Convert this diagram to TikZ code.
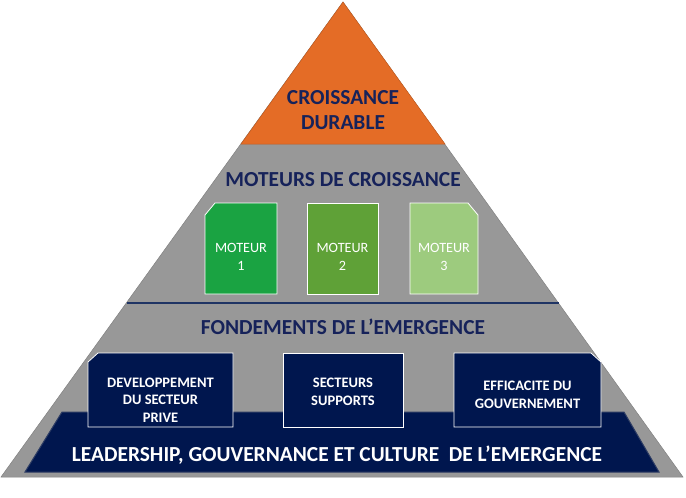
\documentclass[tikz,border=0pt]{standalone}
\usepackage{fontspec}
\setmainfont{Carlito}
\definecolor{orng}{RGB}{228,108,38}
\definecolor{pgray}{RGB}{152,152,152}
\definecolor{navy}{RGB}{0,22,78}
\definecolor{headnavy}{RGB}{22,34,90}
\definecolor{sepblue}{RGB}{31,52,100}
\definecolor{gA}{RGB}{26,163,66}
\definecolor{gB}{RGB}{95,161,55}
\definecolor{gC}{RGB}{157,203,126}
\begin{document}
\begin{tikzpicture}[x=1pt,y=-1pt,
  head/.style={font=\bfseries\fontsize{21.4}{25}\selectfont, text=headnavy, align=center, inner sep=0pt},
  bandtext/.style={font=\bfseries\fontsize{21.4}{24}\selectfont, text=white, inner sep=0pt},
  motortext/.style={font=\fontsize{14.2}{18}\selectfont, text=white, align=center, inner sep=0pt},
  fondtext/.style={font=\bfseries\fontsize{14.5}{17.5}\selectfont, text=white, align=center, inner sep=0pt},
  boxline/.style={draw=white, line width=0.8pt}]
\useasboundingbox (0,0) rectangle (686,498);
% pyramid
\fill[pgray, draw=pgray!85!black, line width=0.5pt] (343,2) -- (683,477) -- (1,477) -- cycle;
% top triangle
\fill[orng, draw=orng!85!black, line width=0.5pt] (343,2) -- (445,144) -- (241,144) -- cycle;
% separator
\draw[sepblue, line width=2pt] (127,303) -- (559,303);
% bottom band
\fill[navy, draw=navy!70!pgray, line width=1pt] (62,412) -- (624,412) -- (659,472) -- (25,472) -- cycle;
% motor boxes
\filldraw[gA, boxline] (205,215) -- (215,203) -- (277,203) -- (277,294) -- (205,294) -- cycle;
\filldraw[gB, boxline] (307,203) rectangle (378,294);
\filldraw[gC, boxline] (410,203) -- (468,203) -- (478,215) -- (478,294) -- (410,294) -- cycle;
% foundation boxes
\filldraw[navy, boxline] (88,362) -- (98,353) -- (233,353) -- (233,427) -- (88,427) -- cycle;
\filldraw[navy, boxline] (283,353) rectangle (403,427);
\filldraw[navy, boxline] (454,353) -- (591,353) -- (601,362) -- (601,427) -- (454,427) -- cycle;
% texts
\node[head] (top) at (343,110) {CROISSANCE\\DURABLE};
\node[head] (mot) at (343,180) {MOTEURS DE CROISSANCE};
\node[head] (fond) at (343,327) {FONDEMENTS DE L’EMERGENCE};
\node[bandtext] (band) at (337,455) {LEADERSHIP, GOUVERNANCE ET CULTURE\ \ DE L’EMERGENCE};
\node[motortext] (m1) at (241,257) {MOTEUR\\1};
\node[motortext] (m2) at (342.5,257) {MOTEUR\\2};
\node[motortext] (m3) at (444,257) {MOTEUR\\3};
\node[fondtext] (f1) at (160.5,400) {DEVELOPPEMENT\\DU SECTEUR\\PRIVE};
\node[fondtext] (f2) at (343,392) {SECTEURS\\SUPPORTS};
\node[fondtext] (f3) at (527.5,395) {EFFICACITE DU\\GOUVERNEMENT};
\end{tikzpicture}
\end{document}
